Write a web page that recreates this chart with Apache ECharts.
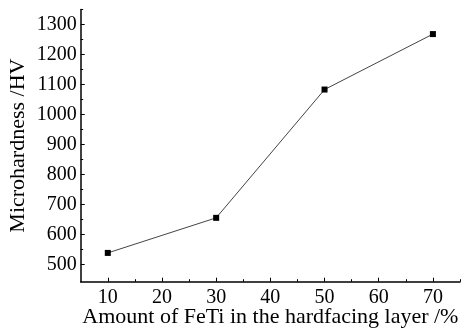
<!DOCTYPE html>
<html>
<head>
<meta charset="utf-8">
<script src="https://cdn.jsdelivr.net/npm/echarts@6/dist/echarts.min.js"></script>
<style>
html,body{margin:0;padding:0;background:#fff;}
#c{width:467px;height:332px;}
</style>
</head>
<body>
<div id="c"></div>
<script>
const feTi = [10, 30, 50, 70];
const hardness = [538, 655, 1083, 1268];
const xMajorTicks = [10, 20, 30, 40, 50, 60, 70];
const xMinorTicks = [15, 25, 35, 45, 55, 65, 75];
const yMajorTicks = [500, 600, 700, 800, 900, 1000, 1100, 1200, 1300];
const yMinorTicks = [550, 650, 750, 850, 950, 1050, 1150, 1250, 1350];
const xName = 'Amount of FeTi in the hardfacing layer /%';
const yName = 'Microhardness /HV';

const font = 'Liberation Serif';
const chart = echarts.init(document.getElementById('c'), null, {renderer: 'canvas'});
const axisLine = {show: true, lineStyle: {color: '#000', width: 1.5}};
const fmt = v => String(v);
chart.setOption({
  animation: false,
  backgroundColor: '#fff',
  grid: {left: 80.7, right: 7, top: 9.5, bottom: 50.3, containLabel: false, outerBoundsMode: 'none'},
  xAxis: [{
    type: 'value', min: 5, max: 75, position: 'bottom',
    name: xName, nameLocation: 'middle', nameGap: 25, nameMoveOverlap: false,
    nameTextStyle: {fontFamily: font, fontSize: 22, color: '#000'},
    axisLine: axisLine,
    axisTick: {show: true, inside: true, length: 4, customValues: xMajorTicks, lineStyle: {color: '#000', width: 1}},
    axisLabel: {customValues: xMajorTicks, formatter: fmt, fontFamily: font, fontSize: 20, color: '#000', margin: 6},
    splitLine: {show: false}
  }, {
    type: 'value', min: 5, max: 75, position: 'bottom',
    axisLine: {show: false},
    axisTick: {show: true, inside: true, length: 2.5, customValues: xMinorTicks, lineStyle: {color: '#000', width: 1}},
    axisLabel: {show: false},
    splitLine: {show: false}
  }],
  yAxis: [{
    type: 'value', min: 442, max: 1350, position: 'left',
    name: yName, nameLocation: 'middle', nameGap: 51, nameMoveOverlap: false,
    nameTextStyle: {fontFamily: font, fontSize: 22, color: '#000'},
    axisLine: axisLine,
    axisTick: {show: true, inside: true, length: 4, customValues: yMajorTicks, lineStyle: {color: '#000', width: 1}},
    axisLabel: {customValues: yMajorTicks, formatter: fmt, fontFamily: font, fontSize: 20, color: '#000', margin: 4},
    splitLine: {show: false}
  }, {
    type: 'value', min: 442, max: 1350, position: 'left',
    axisLine: {show: false},
    axisTick: {show: true, inside: true, length: 2.5, customValues: yMinorTicks, lineStyle: {color: '#000', width: 1}},
    axisLabel: {show: false},
    splitLine: {show: false}
  }],
  series: [{
    type: 'line',
    xAxisIndex: 0, yAxisIndex: 0,
    data: feTi.map((x, i) => [x, hardness[i]]),
    symbol: 'rect', symbolSize: 6,
    itemStyle: {color: '#000'},
    lineStyle: {color: '#444', width: 1}
  }]
});
</script>
</body>
</html>
